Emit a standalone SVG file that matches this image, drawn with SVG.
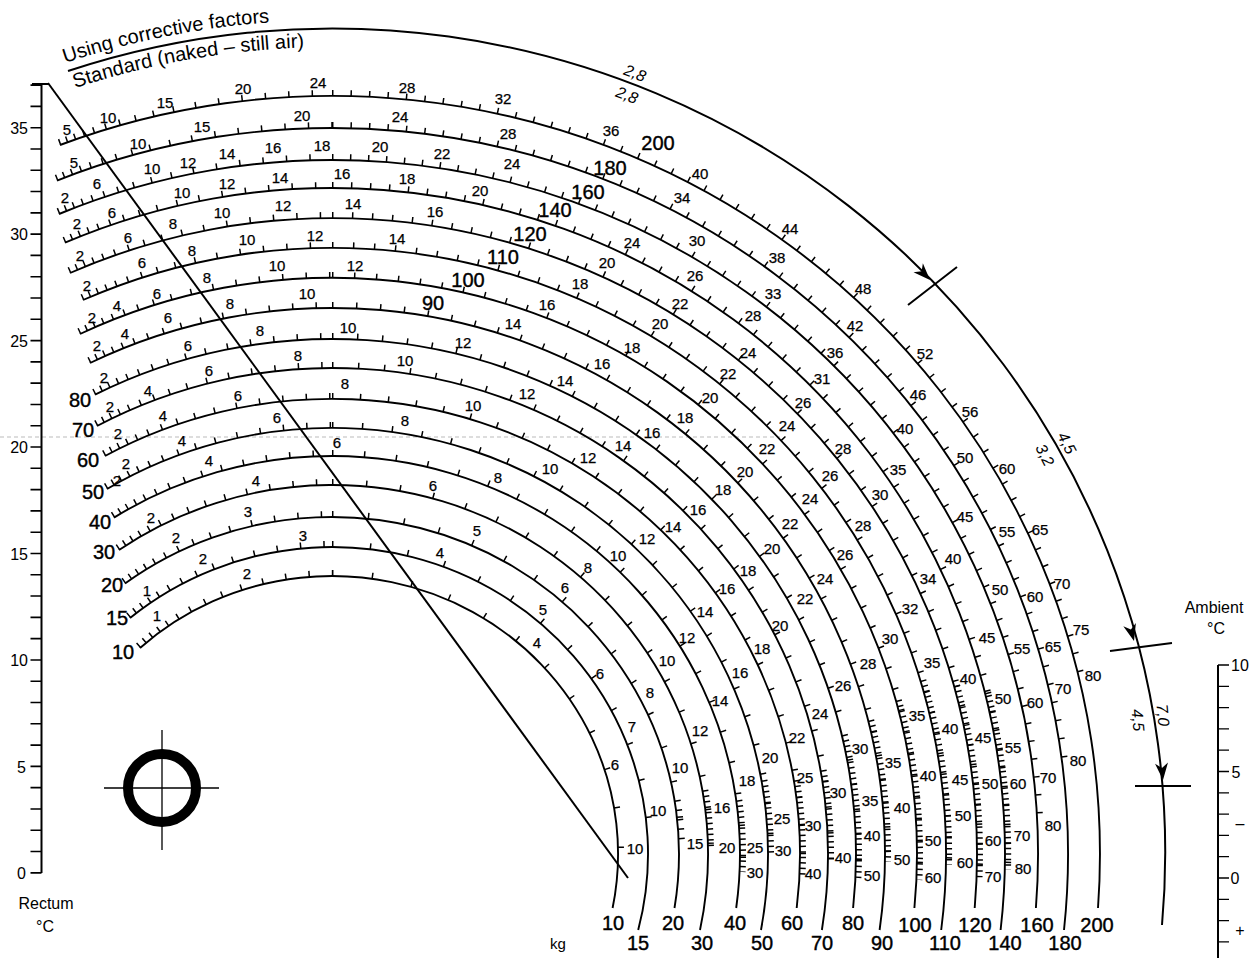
<svg xmlns="http://www.w3.org/2000/svg" width="1249" height="958" viewBox="0 0 1249 958">
<style>
.c{fill:none;stroke:#000;stroke-width:1.9}
.t{fill:none;stroke:#000;stroke-width:6}
.tl{stroke-dasharray:1.5 6 1.5 7 1.5 8 1.5 9 1.5 11 1.5 13 1.5 15 1.5 17 1.5 19 1.5 21 1.5 22 1.5 22 1.5 22 1.5 22 1.5 22 1.5 22 1.5 22 1.5 22 1.5 22 1.5 22}
.td{stroke-dasharray:1.5 4}
.ln{fill:none;stroke:#000;stroke-width:2}
.thin{fill:none;stroke:#000;stroke-width:1.3}
text{font-family:"Liberation Sans",Arial,Helvetica,sans-serif;fill:#000}
.s text{font-size:15px;text-anchor:middle;dominant-baseline:central;stroke:#000;stroke-width:0.25}
.b text{font-size:20px;text-anchor:middle;dominant-baseline:central;stroke:#000;stroke-width:0.4}
.ax text{font-size:16px;dominant-baseline:central}
.it{font-size:16px;font-style:italic;text-anchor:middle;dominant-baseline:central}
.ttl{font-size:20px}
</style>
<defs>
<path id="ah" d="M0,0 L-17,-6.5 L-12,0 L-17,6.5 Z" fill="#000"/>
<path id="tp1" d="M65,63 A843,834 0 0 1 500,36.8"/>
<path id="tp2" d="M75,88.1 A816,807 0 0 1 600,91.8"/>
</defs>

<!-- faint scan line -->
<path d="M0,437 H780" stroke="#aaa" stroke-width="0.8" stroke-dasharray="4 3" fill="none"/>

<!-- Title -->
<g id="title">
<text class="ttl"><textPath href="#tp1">Using corrective factors</textPath></text>
<text class="ttl" font-size="19.5"><textPath href="#tp2">Standard (naked – still air)</textPath></text>
</g>

<!-- Rectum scale -->
<g id="rectum-scale">
<path class="ln" d="M41.5,84 V873"/>
<path d="M36,84.3 V873.8" stroke="#000" stroke-width="11" stroke-dasharray="1.6 19.69" fill="none"/>
<path class="ln" d="M32,84 H49"/>
<g class="ax" text-anchor="end">
<text x="28" y="128">35</text>
<text x="28" y="234">30</text>
<text x="28" y="341">25</text>
<text x="28" y="447">20</text>
<text x="28" y="554">15</text>
<text x="28" y="660">10</text>
<text x="26" y="767">5</text>
<text x="26" y="873">0</text>
</g>
<g class="ax" text-anchor="middle">
<text x="46" y="903">Rectum</text>
<text x="45" y="926">°C</text>
</g>
</g>

<!-- Ambient scale -->
<g id="ambient-scale">
<path class="ln" d="M1218,665 V958"/>
<path class="thin" stroke-width="1.6" d="M1218,665h11M1218,686.3h11M1218,707.6h11M1218,728.9h11M1218,750.2h11M1218,771.5h11M1218,792.8h11M1218,814.1h11M1218,835.4h11M1218,856.7h11M1218,878h11M1218,899.3h11M1218,920.6h11M1218,941.9h11"/>
<g class="ax" text-anchor="middle">
<text x="1214" y="607">Ambient</text>
<text x="1216" y="628">°C</text>
<text x="1240" y="665">10</text>
<text x="1236" y="772">5</text>
<text x="1240" y="823">–</text>
<text x="1235" y="878">0</text>
<text x="1240" y="930">+</text>
</g>
</g>

<!-- Symbol -->
<g id="symbol">
<circle cx="162" cy="788" r="34" fill="none" stroke="#000" stroke-width="10"/>
<path class="thin" d="M104,788 H219 M162,730 V850"/>
</g>

<!-- Curves -->
<g id="curves">
<g id="w10"><path class="c" d="M140,648 A286,278 0 0 1 612.6,908"/>
<path class="t tl" d="M138,645.8 A289,281 0 0 1 332,573"/>
<path class="t" style="stroke-dasharray:1.5 38.5" d="M332,573 A289,281 0 0 1 621,850"/></g>
<g id="w15"><path class="c" d="M130,618 A316,307 0 0 1 638.2,930"/>
<path class="t tl" d="M128.1,615.7 A319,310 0 0 1 332,544"/>
<path class="t" style="stroke-dasharray:1.5 36.5" d="M332,544 A319,310 0 0 1 650,830"/></g>
<g id="w20"><path class="c" d="M125,583.5 A347,337 0 0 1 674.5,908"/>
<path class="t tl" d="M123.2,581.1 A350,340 0 0 1 332,514"/>
<path class="t" style="stroke-dasharray:1.5 34.5" d="M332,514 A350,340 0 0 1 682,845"/>
<path class="t" style="stroke-dasharray:1.5 8" d="M677.6,800 A350,340 0 0 1 682,845"/></g>
<g id="w30"><path class="c" d="M119,550 A376,369 0 0 1 700,930"/>
<path class="t tl" d="M117.3,547.5 A379,372 0 0 1 332,482"/>
<path class="t" style="stroke-dasharray:1.5 32.5" d="M332,482 A379,372 0 0 1 711,850"/>
<path class="t td" d="M705.3,790 A379,372 0 0 1 711,850"/></g>
<g id="w40"><path class="c" d="M114,517.6 A408,398 0 0 1 736.2,908"/>
<path class="t tl" d="M112.4,515.1 A411,401 0 0 1 332,453"/>
<path class="t" style="stroke-dasharray:1.5 30.5" d="M332,453 A411,401 0 0 1 742.6,872"/>
<path class="t td" d="M739.3,800 A411,401 0 0 1 742.6,872"/></g>
<g id="w50"><path class="c" d="M107,489 A436,426 0 0 1 761,930"/>
<path class="t tl" d="M105.5,486.4 A439,429 0 0 1 332,425"/>
<path class="t" style="stroke-dasharray:1.5 28.5" d="M332,425 A439,429 0 0 1 771,855"/>
<path class="t td" d="M764.4,780 A439,429 0 0 1 771,855"/></g>
<g id="w60"><path class="c" d="M105,456 A468,455 0 0 1 796.7,908"/>
<path class="t tl" d="M103.5,453.4 A471,458 0 0 1 332,396"/>
<path class="t" style="stroke-dasharray:1.5 26.5" d="M332,396 A471,458 0 0 1 802.5,875"/>
<path class="t td" d="M796.8,780 A471,458 0 0 1 802.5,875"/></g>
<g id="w70"><path class="c" d="M97,426 A496,486 0 0 1 821.9,930"/>
<path class="t tl" d="M95.6,423.4 A499,489 0 0 1 332,365"/>
<path class="t" style="stroke-dasharray:1.5 24.5" d="M332,365 A499,489 0 0 1 831,860"/>
<path class="t td" d="M823.6,770 A499,489 0 0 1 831,860"/></g>
<g id="w80"><path class="c" d="M95,394.7 A524,515 0 0 1 853.1,908"/>
<path class="t tl" d="M93.6,392 A527,518 0 0 1 332,336"/>
<path class="t" style="stroke-dasharray:1.5 23.5" d="M332,336 A527,518 0 0 1 858.4,878"/>
<path class="t td" d="M846,740 A527,518 0 0 1 858.4,878"/></g>
<g id="w90"><path class="c" d="M90,363 A553,546 0 0 1 879.6,930"/>
<path class="t tl" d="M88.7,360.3 A556,549 0 0 1 332,305"/>
<path class="t" style="stroke-dasharray:1.5 22.5" d="M332,305 A556,549 0 0 1 888,862"/>
<path class="t td" d="M871.2,720 A556,549 0 0 1 888,862"/></g>
<g id="w100"><path class="c" d="M80,334 A585,576 0 0 1 914.4,908"/>
<path class="t tl" d="M78.7,331.3 A588,579 0 0 1 332,275"/>
<path class="t" style="stroke-dasharray:1.5 20.5" d="M332,275 A588,579 0 0 1 919.4,880"/>
<path class="t td" d="M898.8,700 A588,579 0 0 1 919.4,880"/></g>
<g id="w110"><path class="c" d="M83,300 A614,606 0 0 1 941.2,930"/>
<path class="t tl" d="M81.8,297.3 A617,609 0 0 1 332,245"/>
<path class="t" style="stroke-dasharray:1.5 19.5" d="M332,245 A617,609 0 0 1 949,865"/>
<path class="t td" d="M923.3,680 A617,609 0 0 1 949,865"/></g>
<g id="w120"><path class="c" d="M70,273 A645,636 0 0 1 974.7,908"/>
<path class="t tl" d="M68.8,270.3 A648,639 0 0 1 332,215"/>
<path class="t" style="stroke-dasharray:1.5 18.5" d="M332,215 A648,639 0 0 1 979.5,878"/>
<path class="t td" d="M955.5,680 A648,639 0 0 1 979.5,878"/></g>
<g id="w140"><path class="c" d="M65,242.7 A673,666 0 0 1 1000.6,930"/>
<path class="t tl" d="M63.8,240 A676,669 0 0 1 332,185"/>
<path class="t" style="stroke-dasharray:1.5 17.5" d="M332,185 A676,669 0 0 1 1008,870"/>
<path class="t td" d="M987.4,690 A676,669 0 0 1 1008,870"/></g>
<g id="w160"><path class="c" d="M59,214 A706,694 0 0 1 1035.9,908"/>
<path class="t tl" d="M57.8,211.2 A709,697 0 0 1 332,157"/>
<path class="t" style="stroke-dasharray:1.5 16.5" d="M332,157 A709,697 0 0 1 1040.5,828"/></g>
<g id="w180"><path class="c" d="M57,180.6 A736,726 0 0 1 1064,930"/>
<path class="t tl" d="M55.9,177.8 A739,729 0 0 1 332,125"/>
<path class="t" style="stroke-dasharray:1.5 17" d="M332,125 A739,729 0 0 1 1065.1,762"/></g>
<g id="w200"><path class="c" d="M60,145 A768,758 0 0 1 1098,908"/>
<path class="t tl" d="M58.9,142.2 A771,761 0 0 1 332,93"/>
<path class="t" style="stroke-dasharray:1.5 17" d="M332,93 A771,761 0 0 1 1082.1,678"/></g>
</g>

<!-- Correction arc, diagonal, arrows -->
<g id="connectors">
<path class="ln" d="M68,71 A833,824 0 0 1 1162,925"/>
<path class="ln" d="M48,83 L628,878"/>
<path class="ln" d="M908,305 L957,267 M1110,651 L1172,643 M1135,786 L1191,786"/>
<use href="#ah" transform="translate(930,280) rotate(46)"/>
<use href="#ah" transform="translate(1134,641) rotate(75)"/>
<use href="#ah" transform="translate(1163,780) rotate(85)"/>
</g>

<!-- Correction factor labels -->
<g id="factor-labels">
<text class="it" transform="translate(635,73) rotate(21)">2,8</text>
<text class="it" transform="translate(627,95) rotate(21)">2,8</text>
<text class="it" transform="translate(1067,443) rotate(63)">4,5</text>
<text class="it" transform="translate(1045,455) rotate(63)">3,2</text>
<text class="it" transform="translate(1163,715) rotate(85)">7,0</text>
<text class="it" transform="translate(1138,720) rotate(85)">4,5</text>
</g>

<!-- Big curve labels -->
<g class="b" id="weight-labels">
<text x="658" y="143">200</text><text x="610" y="168">180</text><text x="588" y="192">160</text><text x="555" y="210">140</text>
<text x="530" y="234">120</text><text x="503" y="257">110</text><text x="468" y="280">100</text><text x="433" y="303">90</text>
<text x="80" y="400">80</text><text x="83" y="430">70</text><text x="88" y="460">60</text><text x="93" y="492">50</text>
<text x="100" y="522">40</text><text x="104" y="552">30</text><text x="112" y="585">20</text><text x="117" y="618">15</text><text x="123" y="652">10</text>
<text x="613" y="923">10</text><text x="673" y="923">20</text><text x="735" y="923">40</text><text x="792" y="923">60</text><text x="853" y="923">80</text>
<text x="915" y="925">100</text><text x="975" y="925">120</text><text x="1037" y="925">160</text><text x="1097" y="925">200</text>
<text x="638" y="943">15</text><text x="702" y="943">30</text><text x="762" y="943">50</text><text x="822" y="943">70</text><text x="882" y="943">90</text>
<text x="945" y="943">110</text><text x="1005" y="943">140</text><text x="1065" y="943">180</text>
</g>
<text x="558" y="943" font-size="15" text-anchor="middle" dominant-baseline="central">kg</text>

<!-- Small scale labels -->
<g class="s" id="scale-labels">
<text x="67" y="129">5</text><text x="108" y="117">10</text><text x="165" y="102">15</text><text x="243" y="88">20</text><text x="318" y="82">24</text><text x="407" y="87">28</text>
<text x="74" y="162">5</text><text x="138" y="143">10</text><text x="202" y="126">15</text><text x="302" y="115">20</text><text x="400" y="116">24</text>
<text x="65" y="197">2</text><text x="97" y="183">6</text><text x="152" y="168">10</text><text x="188" y="162">12</text><text x="227" y="153">14</text><text x="273" y="147">16</text><text x="322" y="145">18</text><text x="380" y="146">20</text>
<text x="77" y="223">2</text><text x="112" y="212">6</text><text x="182" y="192">10</text><text x="227" y="183">12</text><text x="280" y="177">14</text><text x="342" y="173">16</text><text x="407" y="178">18</text>
<text x="80" y="255">2</text><text x="128" y="237">6</text><text x="173" y="223">8</text><text x="222" y="212">10</text><text x="283" y="205">12</text><text x="353" y="203">14</text>
<text x="87" y="285">2</text><text x="142" y="262">6</text><text x="192" y="250">8</text><text x="247" y="239">10</text><text x="315" y="235">12</text><text x="397" y="238">14</text>
<text x="157" y="293">6</text><text x="207" y="277">8</text><text x="277" y="265">10</text><text x="355" y="265">12</text>
<text x="92" y="317">2</text><text x="117" y="305">4</text><text x="168" y="317">6</text><text x="230" y="303">8</text><text x="307" y="293">10</text>
<text x="97" y="345">2</text><text x="125" y="333">4</text><text x="188" y="345">6</text><text x="260" y="330">8</text><text x="348" y="327">10</text>
<text x="104" y="377">2</text><text x="209" y="370">6</text><text x="298" y="355">8</text><text x="405" y="360">10</text>
<text x="148" y="390">4</text><text x="238" y="395">6</text><text x="345" y="383">8</text>
<text x="110" y="406">2</text><text x="163" y="415">4</text><text x="277" y="417">6</text><text x="405" y="420">8</text>
<text x="118" y="433">2</text><text x="182" y="440">4</text><text x="337" y="442">6</text>
<text x="126" y="463">2</text><text x="209" y="460">4</text>
<text x="117" y="480">2</text><text x="256" y="480">4</text>
<text x="151" y="517">2</text><text x="248" y="511">3</text>
<text x="176" y="537">2</text><text x="303" y="535">3</text>
<text x="203" y="558">2</text><text x="247" y="573">2</text>
<text x="147" y="590">1</text><text x="157" y="615">1</text>
<text x="503" y="98">32</text><text x="508" y="133">28</text><text x="611" y="130">36</text><text x="442" y="153">22</text><text x="512" y="163">24</text>
<text x="700" y="173">40</text><text x="480" y="190">20</text><text x="682" y="197">34</text><text x="435" y="211">16</text><text x="790" y="228">44</text>
<text x="632" y="242">24</text><text x="697" y="240">30</text><text x="607" y="262">20</text><text x="777" y="257">38</text><text x="695" y="275">26</text>
<text x="580" y="283">18</text><text x="773" y="293">33</text><text x="547" y="304">16</text><text x="680" y="303">22</text><text x="753" y="315">28</text><text x="863" y="288">48</text>
<text x="513" y="323">14</text><text x="660" y="323">20</text><text x="463" y="342">12</text><text x="632" y="347">18</text><text x="748" y="352">24</text>
<text x="602" y="363">16</text><text x="728" y="373">22</text><text x="565" y="380">14</text><text x="710" y="397">20</text><text x="803" y="402">26</text>
<text x="527" y="393">12</text><text x="473" y="405">10</text><text x="685" y="417">18</text><text x="787" y="425">24</text><text x="652" y="432">16</text>
<text x="623" y="445">14</text><text x="767" y="448">22</text><text x="588" y="457">12</text><text x="550" y="468">10</text><text x="745" y="471">20</text>
<text x="498" y="477">8</text><text x="433" y="485">6</text><text x="723" y="489">18</text><text x="810" y="498">24</text><text x="698" y="509">16</text>
<text x="790" y="523">22</text><text x="673" y="526">14</text><text x="477" y="530">5</text><text x="647" y="538">12</text><text x="772" y="548">20</text>
<text x="440" y="552">4</text><text x="618" y="555">10</text><text x="748" y="570">18</text><text x="588" y="567">8</text><text x="727" y="588">16</text>
<text x="565" y="587">6</text><text x="805" y="598">22</text><text x="705" y="611">14</text><text x="543" y="609">5</text><text x="780" y="625">20</text>
<text x="855" y="325">42</text><text x="925" y="353">52</text><text x="835" y="352">36</text><text x="822" y="378">31</text><text x="918" y="394">46</text>
<text x="970" y="411">56</text><text x="905" y="428">40</text><text x="843" y="448">28</text><text x="965" y="457">50</text><text x="1007" y="468">60</text>
<text x="830" y="475">26</text><text x="898" y="469">35</text><text x="880" y="494">30</text><text x="965" y="516">45</text><text x="1040" y="529">65</text>
<text x="1007" y="531">55</text><text x="863" y="525">28</text><text x="845" y="554">26</text><text x="953" y="558">40</text><text x="825" y="578">24</text>
<text x="928" y="578">34</text><text x="1062" y="583">70</text><text x="1000" y="589">50</text><text x="1035" y="596">60</text><text x="910" y="608">32</text><text x="1081" y="629">75</text>
<text x="537" y="642">4</text><text x="687" y="637">12</text><text x="600" y="673">6</text><text x="667" y="660">10</text><text x="762" y="648">18</text>
<text x="650" y="692">8</text><text x="740" y="672">16</text><text x="720" y="700">14</text><text x="632" y="726">7</text><text x="700" y="730">12</text>
<text x="797" y="737">22</text><text x="770" y="757">20</text><text x="615" y="764">6</text><text x="680" y="767">10</text><text x="747" y="780">18</text>
<text x="805" y="777">25</text><text x="658" y="810">10</text><text x="722" y="807">16</text><text x="782" y="818">25</text><text x="695" y="843">15</text>
<text x="727" y="847">20</text><text x="755" y="847">25</text><text x="783" y="850">30</text><text x="635" y="848">10</text><text x="755" y="872">30</text><text x="813" y="873">40</text>
<text x="890" y="638">30</text><text x="987" y="637">45</text><text x="1022" y="648">55</text><text x="1053" y="646">65</text><text x="868" y="663">28</text>
<text x="932" y="662">35</text><text x="1093" y="675">80</text><text x="843" y="685">26</text><text x="968" y="678">40</text><text x="1063" y="688">70</text>
<text x="1003" y="698">50</text><text x="1035" y="702">60</text><text x="820" y="713">24</text><text x="917" y="715">35</text><text x="950" y="728">40</text>
<text x="983" y="737">45</text><text x="1013" y="747">55</text><text x="860" y="748">30</text><text x="1078" y="760">80</text><text x="893" y="762">35</text>
<text x="928" y="775">40</text><text x="960" y="779">45</text><text x="990" y="783">50</text><text x="1018" y="783">60</text><text x="1048" y="777">70</text>
<text x="838" y="792">30</text><text x="870" y="800">35</text><text x="902" y="807">40</text><text x="963" y="815">50</text><text x="813" y="825">30</text>
<text x="872" y="835">40</text><text x="1053" y="825">80</text><text x="1022" y="835">70</text><text x="993" y="840">60</text><text x="933" y="840">50</text>
<text x="843" y="857">40</text><text x="902" y="859">50</text><text x="965" y="862">60</text><text x="1023" y="868">80</text><text x="872" y="875">50</text>
<text x="933" y="877">60</text><text x="993" y="876">70</text>
</g>
</svg>
